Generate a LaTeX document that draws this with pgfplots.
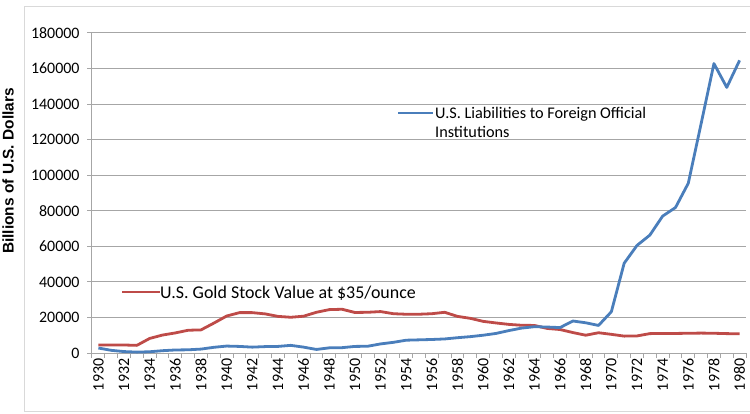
\documentclass[border=0pt]{standalone}
\usepackage{pgfplots}
\pgfplotsset{compat=1.18}
\usepackage{fontspec}
\setmainfont{Carlito}
\newfontfamily\arialf{Liberation Sans}
\definecolor{exblue}{HTML}{4A7EBB}
\definecolor{exred}{HTML}{BE4B48}
\definecolor{gridc}{HTML}{A6A6A6}
\pgfplotstableread{
year gold
1930 4500
1931 4500
1932 4500
1933 4300
1934 8200
1935 10100
1936 11300
1937 12800
1938 13000
1939 16800
1940 20800
1941 22700
1942 22700
1943 22000
1944 20600
1945 20100
1946 20700
1947 22900
1948 24400
1949 24600
1950 22800
1951 22900
1952 23300
1953 22100
1954 21800
1955 21800
1956 22100
1957 22900
1958 20600
1959 19500
1960 17800
1961 16900
1962 16100
1963 15600
1964 15500
1965 13800
1966 13200
1967 11500
1968 10000
1969 11400
1970 10500
1971 9500
1972 9600
1973 10900
1974 11000
1975 11000
1976 11100
1977 11200
1978 11100
1979 10900
1980 10800
}\goldtable
\pgfplotstableread{
year liab
1930 2800
1931 1500
1932 800
1933 500
1934 700
1935 1300
1936 1700
1937 1800
1938 2200
1939 3200
1940 3900
1941 3700
1942 3300
1943 3600
1944 3700
1945 4300
1946 3300
1947 2000
1948 2900
1949 3000
1950 3700
1951 3800
1952 5100
1953 6000
1954 7200
1955 7400
1956 7600
1957 7900
1958 8600
1959 9200
1960 10000
1961 11000
1962 12600
1963 14000
1964 14800
1965 14600
1966 14300
1967 18000
1968 17000
1969 15500
1970 23200
1971 50500
1972 60500
1973 66300
1974 77000
1975 81800
1976 95500
1977 129000
1978 162800
1979 149400
1980 164600
}\liabtable
\begin{document}
\begin{tikzpicture}
\begin{axis}[
  scale only axis, width=654bp, height=320bp,
  at={(0,0)}, anchor=south west,
  xmin=1929.5, xmax=1980.5, ymin=0, ymax=180000,
  axis lines*=left,
  axis line style={gridc, line width=1bp},
  ytick={0,20000,...,180000},
  scaled y ticks=false,
  ymajorgrids, grid style={gridc, line width=1bp},
  tick align=outside,
  major tick length=5bp,
  tick style={gridc, line width=1bp},
  xtick={1929.5,1930.5,...,1980.5},
  xticklabels={},
  extra x ticks={1930,1932,...,1980},
  extra x tick style={major tick length=0pt, grid=none,
     xticklabel style={rotate=90, anchor=east, inner sep=0.5bp, xshift=-5bp}},
  /pgf/number format/.cd, fixed, precision=0, 1000 sep={}, assume math mode=true,
  /pgfplots/.cd,
  tick label style={font=\fontsize{16}{19}\selectfont, text=black},
  yticklabel style={xshift=-4bp},
  clip=false,
]
\addplot[exred, line width=2.8bp, line join=round] table[x=year, y=gold] {\goldtable};
\addplot[exblue, line width=2.8bp, line join=round] table[x=year, y=liab] {\liabtable};
\end{axis}
\draw[exblue, line width=2.8bp] (306bp,240bp) -- (341bp,240bp);
\node[anchor=base west, inner sep=0pt, font=\fontsize{16.3}{19}\selectfont] at (343bp,234.8bp) {U.S. Liabilities to Foreign Official};
\node[anchor=base west, inner sep=0pt, font=\fontsize{16.3}{19}\selectfont] at (343bp,215.8bp) {Institutions};
\draw[exred, line width=2.8bp] (30bp,61bp) -- (68bp,61bp);
\node[anchor=base west, inner sep=0pt, font=\fontsize{18}{21}\selectfont] at (68bp,54.5bp) {U.S. Gold Stock Value at \$35/ounce};
\node[rotate=90, font=\arialf\bfseries\fontsize{15.5}{18}\selectfont, inner sep=0pt] at (-84bp,182bp) {Billions of U.S. Dollars};
\draw[black!15, line width=1bp] (-67bp,-58bp) rectangle (668bp,346bp);
\pgfresetboundingbox
\path[use as bounding box] (-92bp,-61bp) rectangle (658bp,353bp);
\end{tikzpicture}
\end{document}
